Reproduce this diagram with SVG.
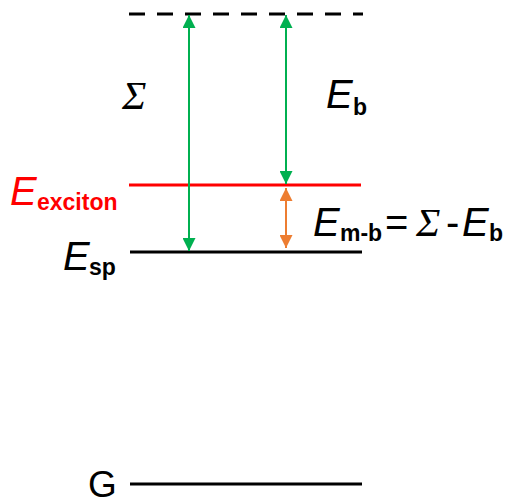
<svg xmlns="http://www.w3.org/2000/svg" width="514" height="504" viewBox="0 0 514 504">
<style>
.lvl{stroke-width:3;fill:none}
.big{font-family:"Liberation Sans",Arial,sans-serif;font-style:italic;font-size:40px}
.sub{font-family:"Liberation Sans",Arial,sans-serif;font-weight:bold;font-style:normal;font-size:23px}
.norm{font-family:"Liberation Sans",Arial,sans-serif;font-style:normal;font-size:40px}
.sig{font-family:"Liberation Serif","Times New Roman",serif;font-style:italic;font-size:41px}
</style>
<defs>
<marker id="ag" viewBox="0 0 13 13" refX="13" refY="6.5" markerWidth="13" markerHeight="13" orient="auto-start-reverse" markerUnits="userSpaceOnUse"><path d="M0,0 L13,6.5 L0,13 z" fill="#00b050"/></marker>
<marker id="ao" viewBox="0 0 13 13" refX="13" refY="6.5" markerWidth="13" markerHeight="13" orient="auto-start-reverse" markerUnits="userSpaceOnUse"><path d="M0,0 L13,6.5 L0,13 z" fill="#ed7d31"/></marker>
</defs>
<g id="level-vacuum"><line class="lvl" x1="129" y1="14" x2="363" y2="14" stroke="#000" stroke-dasharray="16,12"/></g>
<g id="level-exciton"><line class="lvl" x1="129" y1="185" x2="361" y2="185" stroke="#ff0000"/>
<text class="big" x="10" y="205" fill="#ff0000">E<tspan class="sub" x="37" dy="5">exciton</tspan></text></g>
<g id="level-sp"><line class="lvl" x1="130" y1="252" x2="362" y2="252" stroke="#000"/>
<text class="big" x="63" y="270" fill="#000">E<tspan class="sub" x="89" dy="5">sp</tspan></text></g>
<g id="level-G"><line class="lvl" x1="130" y1="484" x2="362" y2="484" stroke="#000"/>
<text class="norm" x="88" y="497" fill="#000" style="font-size:37px">G</text></g>
<g id="connectors">
<line x1="189" y1="15" x2="189" y2="251" stroke="#00b050" stroke-width="2" marker-start="url(#ag)" marker-end="url(#ag)"/>
<line x1="286" y1="15" x2="286" y2="184" stroke="#00b050" stroke-width="2" marker-start="url(#ag)" marker-end="url(#ag)"/>
<line x1="286" y1="188" x2="286" y2="248" stroke="#ed7d31" stroke-width="2" marker-start="url(#ao)" marker-end="url(#ao)"/>
</g>
<g id="labels">
<text class="sig" x="122" y="109">Σ</text>
<text class="big" x="326" y="108">E<tspan class="sub" x="353" dy="7">b</tspan></text>
<text class="big" x="313" y="236">E<tspan class="sub" x="340" dy="5">m-b</tspan><tspan class="norm" x="385" dy="-5">=</tspan><tspan class="sig" x="416">Σ</tspan><tspan class="norm" x="446">-</tspan><tspan x="462">E</tspan><tspan class="sub" x="489" dy="5">b</tspan></text>
</g>
</svg>
